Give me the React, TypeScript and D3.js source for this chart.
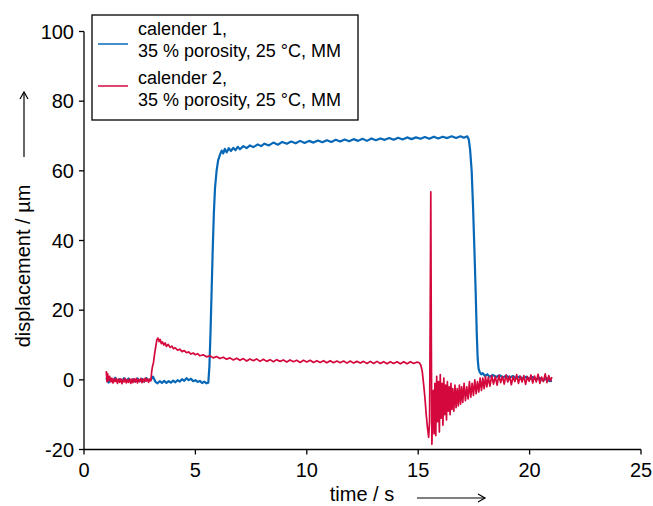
import React from 'react';
import * as d3 from 'd3';

// time (s), displacement (µm)
const calender1: [number, number][] = [
  [1.0, 0.5], [1.1, -0.8], [1.2, 0.3], [1.3, -0.5], [1.4, 0.6], [1.5, -0.4], [1.6, 0.2], [1.7, -0.6],
  [1.8, 0.5], [1.9, -0.3], [2.0, 0.4], [2.1, -0.6], [2.2, 0.2], [2.3, -0.5], [2.4, 0.4], [2.5, -0.4],
  [2.6, 0.3], [2.7, -0.5], [2.8, 0.5], [2.9, -0.2], [3.0, 0.1], [3.1, 0.9], [3.2, -0.5], [3.3, -1.0],
  [3.4, -0.4], [3.5, -0.9], [3.6, -0.3], [3.7, -0.9], [3.8, -0.4], [3.9, -0.8], [4.0, -0.2], [4.1, -0.7],
  [4.2, -0.1], [4.3, -0.5], [4.4, 0.2], [4.5, -0.3], [4.6, 0.5], [4.7, -0.1], [4.8, 0.3], [4.9, -0.4],
  [5.0, -0.1], [5.1, -0.6], [5.2, -0.3], [5.3, -0.9], [5.4, -0.5], [5.5, -1.0], [5.58, -0.8], [5.63, 4],
  [5.68, 14], [5.73, 26], [5.78, 38], [5.83, 48], [5.88, 55], [5.95, 60], [6.02, 63], [6.1, 64.6],
  [6.18, 65.8], [6.25, 65.0], [6.32, 66.3], [6.4, 65.3], [6.5, 66.5], [6.6, 65.7], [6.7, 66.6], [6.8, 65.9],
  [6.9, 66.9], [7.0, 66.2], [7.15, 67.1], [7.3, 66.5], [7.45, 67.3], [7.6, 66.8], [7.8, 67.6], [7.95, 67.1],
  [8.1, 67.8], [8.3, 67.3], [8.5, 68.1], [8.7, 67.5], [8.9, 68.3], [9.1, 67.8], [9.3, 68.4], [9.5, 67.9],
  [9.7, 68.6], [9.9, 68.0], [10.1, 68.6], [10.3, 68.1], [10.5, 68.7], [10.7, 68.2], [10.9, 68.8], [11.1, 68.3],
  [11.3, 68.9], [11.5, 68.4], [11.7, 69.0], [11.9, 68.5], [12.1, 69.1], [12.3, 68.6], [12.5, 69.2], [12.7, 68.6],
  [12.9, 69.3], [13.1, 68.8], [13.3, 69.3], [13.5, 68.9], [13.7, 69.4], [13.9, 68.9], [14.1, 69.5], [14.3, 69.0],
  [14.5, 69.6], [14.7, 69.1], [14.9, 69.6], [15.1, 69.2], [15.3, 69.7], [15.5, 69.2], [15.7, 69.8], [15.9, 69.3],
  [16.1, 69.8], [16.3, 69.4], [16.5, 69.9], [16.7, 69.4], [16.9, 69.9], [17.05, 69.5], [17.2, 69.9], [17.27, 69.0],
  [17.33, 66], [17.4, 60], [17.46, 50], [17.52, 38], [17.58, 25], [17.63, 13], [17.67, 6], [17.71, 3.2],
  [17.76, 2.2], [17.83, 1.6], [17.9, 1.9], [18.0, 1.1], [18.1, 1.6], [18.2, 0.9], [18.35, 1.4], [18.5, 0.8],
  [18.65, 1.3], [18.8, 0.7], [18.95, 1.2], [19.1, 0.6], [19.25, 1.1], [19.4, 0.4], [19.55, 1.0], [19.7, 0.3],
  [19.85, 0.9], [20.0, 0.2], [20.15, 0.8], [20.3, 0.1], [20.45, 0.6], [20.6, -0.2], [20.75, 0.5], [20.9, -0.4],
  [21.0, -0.3]
];

const calender2: [number, number][] = [
  [1.0, 2.5], [1.03, -0.5], [1.06, 1.8], [1.1, -0.2], [1.15, 1.0], [1.2, -0.6], [1.25, 0.5], [1.3, -0.9],
  [1.35, 0.3], [1.4, -0.5], [1.45, 0.4], [1.5, -1.0], [1.55, 0.2], [1.6, -0.7], [1.65, 0.3], [1.7, -1.1],
  [1.75, 0.1], [1.8, -0.6], [1.85, 0.4], [1.9, -0.9], [1.95, 0.0], [2.0, -0.7], [2.05, 0.3], [2.1, -1.0],
  [2.15, 0.2], [2.2, -0.8], [2.25, 0.3], [2.3, -0.6], [2.35, 0.4], [2.4, -0.9], [2.45, 0.1], [2.5, -0.5],
  [2.55, 0.4], [2.6, -0.8], [2.65, 0.2], [2.7, -0.6], [2.75, 0.5], [2.8, -0.4], [2.85, 0.3], [2.9, -0.7],
  [2.95, 0.2], [3.0, -0.3], [3.04, 2.5], [3.08, 4.0], [3.12, 5.0], [3.17, 7.5], [3.22, 9.5], [3.27, 11.5],
  [3.32, 12.0], [3.37, 11.0], [3.42, 11.6], [3.47, 10.4], [3.52, 10.9], [3.58, 10.0], [3.64, 10.6], [3.7, 9.6],
  [3.78, 10.2], [3.86, 9.3], [3.94, 9.7], [4.02, 8.9], [4.1, 9.2], [4.2, 8.5], [4.3, 8.8], [4.4, 8.1],
  [4.5, 8.4], [4.6, 7.8], [4.7, 8.0], [4.8, 7.4], [4.9, 7.7], [5.0, 7.2], [5.1, 7.5], [5.2, 6.9],
  [5.35, 7.2], [5.5, 6.6], [5.65, 6.9], [5.8, 6.3], [5.95, 6.7], [6.1, 6.1], [6.25, 6.5], [6.4, 5.9],
  [6.55, 6.3], [6.7, 5.7], [6.85, 6.2], [7.0, 5.6], [7.15, 6.1], [7.3, 5.4], [7.45, 6.0], [7.6, 5.5],
  [7.75, 6.0], [7.9, 5.3], [8.05, 5.9], [8.2, 5.3], [8.35, 5.8], [8.5, 5.2], [8.65, 5.8], [8.8, 5.3],
  [8.95, 5.7], [9.1, 5.1], [9.25, 5.7], [9.4, 5.2], [9.55, 5.6], [9.7, 5.0], [9.85, 5.6], [10.0, 5.1],
  [10.15, 5.6], [10.3, 5.0], [10.45, 5.5], [10.6, 5.0], [10.75, 5.5], [10.9, 4.9], [11.05, 5.5], [11.2, 4.9],
  [11.35, 5.4], [11.5, 4.9], [11.65, 5.4], [11.8, 4.8], [11.95, 5.4], [12.1, 4.8], [12.25, 5.3], [12.4, 4.8],
  [12.55, 5.3], [12.7, 4.7], [12.85, 5.3], [13.0, 4.7], [13.15, 5.3], [13.3, 4.7], [13.45, 5.2], [13.6, 4.6],
  [13.75, 5.2], [13.9, 4.7], [14.05, 5.2], [14.2, 4.6], [14.35, 5.2], [14.5, 4.6], [14.65, 5.2], [14.8, 4.7],
  [14.95, 5.1], [15.05, 4.9], [15.12, 4.2], [15.18, 2.5], [15.24, -1], [15.3, -5], [15.36, -10], [15.42, -14],
  [15.47, -16.5], [15.51, -12], [15.54, 20], [15.565, 54], [15.59, 10], [15.615, -18.5], [15.65, -8],
  [15.68, -3], [15.71, -15.5], [15.75, -1], [15.79, -16], [15.83, 1], [15.87, -12], [15.91, -0.5], [15.95, -15],
  [15.99, 1.5], [16.03, -11], [16.07, -1], [16.11, -13], [16.15, 0.5], [16.19, -10], [16.23, -1.5],
  [16.27, -11.5], [16.31, -0.5], [16.35, -9], [16.39, -2], [16.43, -10], [16.47, -1], [16.51, -8.5],
  [16.55, -2.5], [16.6, -9], [16.65, -1.5], [16.7, -8], [16.75, -2.5], [16.8, -7.5], [16.85, -1.5],
  [16.9, -7], [16.95, -2], [17.0, -6.5], [17.06, -1], [17.12, -6], [17.18, -2], [17.24, -5.5], [17.3, -0.5],
  [17.36, -5], [17.42, -1], [17.48, -4.5], [17.54, 0], [17.6, -4], [17.66, -0.5], [17.72, -3.5], [17.78, 0.5],
  [17.84, -3], [17.9, 0.5], [17.96, -2.5], [18.02, 1.0], [18.08, -2], [18.15, 0.8], [18.22, -1.8], [18.3, 1.2],
  [18.38, -1.2], [18.46, 1.0], [18.54, -1.5], [18.62, 1.3], [18.7, -0.8], [18.78, 1.0], [18.86, -1.2],
  [18.94, 1.4], [19.02, -0.6], [19.1, 1.1], [19.18, -1.4], [19.26, 0.9], [19.34, -0.5], [19.42, 1.5],
  [19.5, -1.0], [19.58, 1.0], [19.66, -0.6], [19.74, 1.2], [19.82, -1.3], [19.9, 0.9], [19.98, -0.4],
  [20.06, 1.4], [20.14, -0.9], [20.22, 1.1], [20.3, -0.6], [20.38, 1.6], [20.46, -1.0], [20.54, 0.8],
  [20.62, -0.5], [20.7, 1.7], [20.78, -0.8], [20.86, 1.2], [20.94, -0.3], [21.0, 0.8]
];

const xTicks = [0, 5, 10, 15, 20, 25];
const yTicks = [-20, 0, 20, 40, 60, 80, 100];
const seriesNames = ['calender 1,', 'calender 2,'];
const seriesSub = '35 % porosity, 25 °C, MM';
const colors = ['#0868b8', '#d4083c'];

const W = 653;
const H = 506;
const font = '"Liberation Sans", Arial, Helvetica, sans-serif';

export default function App() {
  const x = d3.scaleLinear().domain([0, 25]).range([84, 641]);
  const y = d3.scaleLinear().domain([-20, 100]).range([449.5, 31.5]);

  const line = d3
    .line<[number, number]>()
    .x(d => x(d[0]))
    .y(d => y(d[1]));

  const x0 = x(0);
  const y0 = y(-20);

  return (
    <svg
      width={W}
      height={H}
      style={{ position: 'absolute', left: 0, top: 0, background: '#fff' }}
      fontFamily={font}
    >
      {/* data */}
      <path d={line(calender1) || ''} fill="none" stroke={colors[0]} strokeWidth={2.2} strokeLinejoin="round" />
      <path d={line(calender2) || ''} fill="none" stroke={colors[1]} strokeWidth={1.7} strokeLinejoin="round" />

      {/* axes */}
      <line x1={x0} x2={x0} y1={y(100)} y2={y0} stroke="#000" strokeWidth={1.3} />
      <line x1={x0} x2={x(25)} y1={y0} y2={y0} stroke="#000" strokeWidth={1.3} />
      {yTicks.map(t => (
        <g key={'y' + t}>
          <line x1={x0 - 5} x2={x0} y1={y(t)} y2={y(t)} stroke="#000" strokeWidth={1.3} />
          <text x={x0 - 10} y={y(t) + 7} textAnchor="end" fontSize={20}>{t}</text>
        </g>
      ))}
      {xTicks.map(t => (
        <g key={'x' + t}>
          <line x1={x(t)} x2={x(t)} y1={y0} y2={y0 + 5} stroke="#000" strokeWidth={1.3} />
          <text x={x(t)} y={477} textAnchor="middle" fontSize={20}>{t}</text>
        </g>
      ))}

      {/* axis titles with arrows */}
      <text x={362} y={501} textAnchor="middle" fontSize={20}>time / s</text>
      <line x1={417} x2={485} y1={498} y2={498} stroke="#000" strokeWidth={1.2} />
      <path d="M478,494 L485,498 L478,502" fill="none" stroke="#000" strokeWidth={1.2} />

      <text transform="translate(30,266) rotate(-90)" textAnchor="middle" fontSize={20}>displacement / µm</text>
      <line x1={24} x2={24} y1={157} y2={92} stroke="#000" strokeWidth={1.2} />
      <path d="M20,99 L24,92 L28,99" fill="none" stroke="#000" strokeWidth={1.2} />

      {/* legend */}
      <rect x={92} y={15} width={266} height={105} fill="#fff" stroke="#000" strokeWidth={1.3} />
      <line x1={98} x2={128} y1={44} y2={44} stroke={colors[0]} strokeWidth={1.5} />
      <text x={138} y={35} fontSize={18}>{seriesNames[0]}</text>
      <text x={138} y={57} fontSize={18}>{seriesSub}</text>
      <line x1={98} x2={128} y1={86} y2={86} stroke={colors[1]} strokeWidth={1.5} />
      <text x={138} y={84} fontSize={18}>{seriesNames[1]}</text>
      <text x={138} y={106} fontSize={18}>{seriesSub}</text>
    </svg>
  );
}
